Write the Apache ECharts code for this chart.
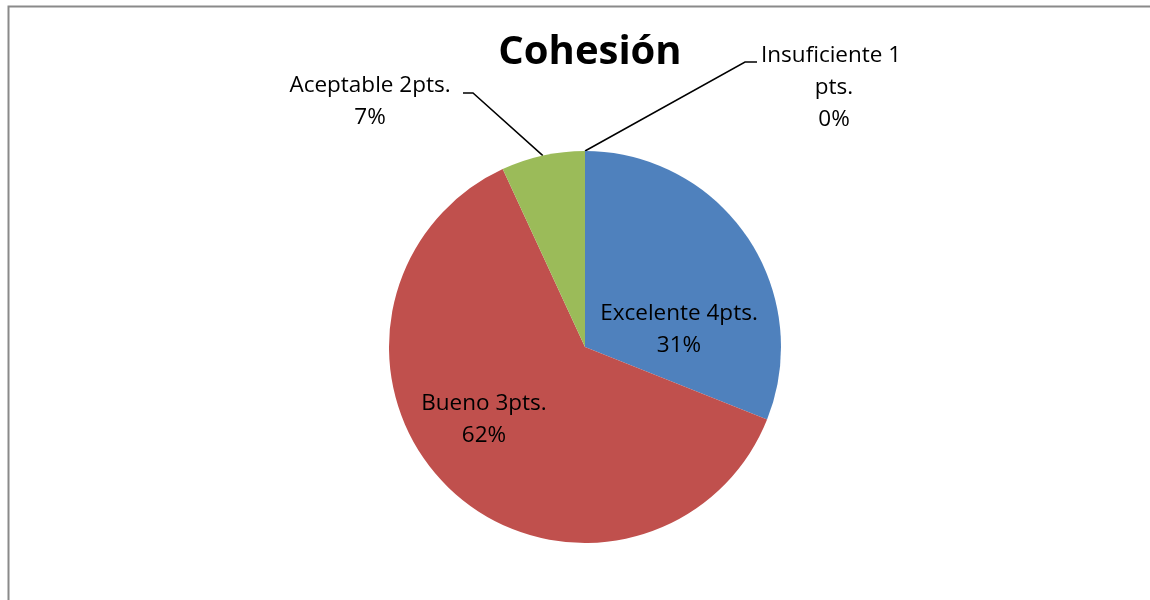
<!DOCTYPE html>
<html>
<head>
<meta charset="utf-8">
<title>Cohesión</title>
<script src="https://cdn.jsdelivr.net/npm/echarts@6/dist/echarts.min.js"></script>
<style>
  html, body { margin: 0; padding: 0; background: #fff; }
  #main { width: 1150px; height: 600px; }
</style>
</head>
<body>
<div id="main"></div>
<script>
var categories = ["Excelente 4pts.", "Bueno 3pts.", "Aceptable 2pts.", "Insuficiente 1 pts."];
var counts = [9, 18, 2, 0];
var colors = ["#4F81BD", "#C0504D", "#9BBB59", "#8064A2"];

// label placement (Excel "best fit" positions), not data
var labelPlace = [
    { x: 679, y: 330 },
    { x: 484, y: 420 },
    { x: 370, y: 102, line: [[473, 93], [463, 93]] },
    { x: 834, y: 88, line: [[745, 62], [757, 62]] }
];

var font = "'Open Sans', Lato, sans-serif";

var chart = echarts.init(document.getElementById("main"));
chart.setOption({
    animation: false,
    title: {
        text: "Cohesión",
        left: 585,
        top: 28,
        textAlign: "center",
        textStyle: { fontFamily: font, fontSize: 40, fontWeight: "bold", color: "#000" }
    },
    graphic: [{
        type: "rect",
        shape: { x: 8.5, y: 6.5, width: 1300, height: 700 },
        style: { fill: "none", stroke: "#8a8a8a", lineWidth: 2 }
    }],
    series: [{
        type: "pie",
        center: [585, 347],
        radius: 196,
        startAngle: 90,
        clockwise: true,
        avoidLabelOverlap: false,
        itemStyle: { borderWidth: 0 },
        label: {
            fontFamily: font,
            fontSize: 22.5,
            lineHeight: 32,
            color: "#000",
            align: "center",
            formatter: function (p) {
                return p.name + "\n" + Math.round(p.percent) + "%";
            }
        },
        labelLine: { lineStyle: { color: "#000", width: 1.5 }, smooth: false },
        labelLayout: function (params) {
            var pl = labelPlace[params.dataIndex];
            var out = {
                x: pl.x,
                y: pl.y,
                align: "center",
                verticalAlign: "middle"
            };
            if (pl.line && params.labelLinePoints) {
                out.labelLinePoints = [params.labelLinePoints[0], pl.line[0], pl.line[1]];
            }
            return out;
        },
        data: categories.map(function (c, i) {
            var outside = i >= 2;
            return {
                name: c,
                value: counts[i],
                itemStyle: { color: colors[i] },
                label: outside
                    ? { position: "outside", width: i === 3 ? 160 : 220, overflow: "break", align: "center" }
                    : { position: "inside" },
                labelLine: { show: outside }
            };
        })
    }]
});
</script>
</body>
</html>
